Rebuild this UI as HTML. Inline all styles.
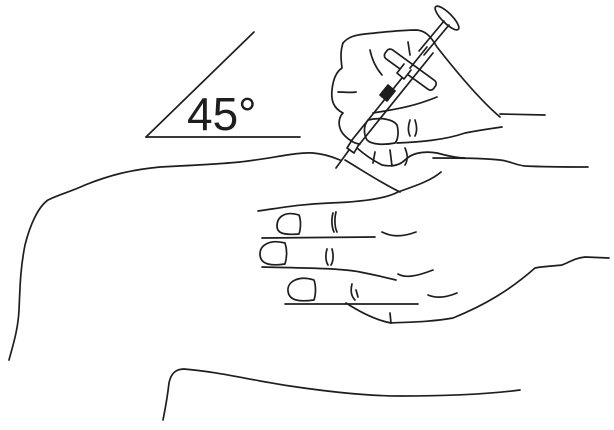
<!DOCTYPE html>
<html><head><meta charset="utf-8"><style>
html,body{margin:0;padding:0;background:#fff;width:614px;height:430px;overflow:hidden}
svg{display:block}
path,line,ellipse,rect{fill:none;stroke:#1e1e1e;stroke-width:1.7;stroke-linecap:round;stroke-linejoin:round}
</style></head><body>
<svg width="614" height="430" viewBox="0 0 614 430">
<g>
<line x1="146" y1="137" x2="254" y2="32"/>
<line x1="146" y1="137" x2="300" y2="137"/>
<text x="187" y="130" font-family="Liberation Sans, sans-serif" font-size="46" fill="#1e1e1e">45°</text>
</g>
<g>
<path d="M9,360 C13,345 18,330 19,310 C20,290 20,270 25,245 C30,225 38,207 48,200 C60,194 70,192 85,185 C110,175 130,170 160,167 C200,165 220,164 240,162 C275,158 295,152 313,153 C325,154 333,157 340,160"/>
<path d="M433,158 C460,158 480,158 500,160 C510,161 515,165 525,166 C545,167 565,167 588,167"/>
<path d="M163,420 C166,405 168,392 169,383 C171,373 176,369 184,369 C220,372 250,380 290,386 C330,392 370,396 400,396 C450,396 490,394 520,390"/>
</g>
<g>
<path d="M345,160 C365,172 383,184 400,192"/>
<path d="M258,211 C280,208 300,204 330,203 C360,202 385,199 398,192 C418,185 432,180 441,172"/>
<path d="M262,238 L375,237"/>
<path d="M262,267 C300,268 340,268 360,272 C375,275 388,278 396,280"/>
<path d="M285,304 L418,304"/>
<path d="M299,215 C286,211 277,216 277,226 C277,234 285,235 299,234 C301,228 301,220 299,215 Z"/>
<path d="M285,243 C270,239 260,245 260,254 C260,265 272,266 285,264 C287,257 287,249 285,243 Z"/>
<path d="M314,280 C298,275 287,282 288,291 C289,301 300,302 314,300 C316,294 316,286 314,280 Z"/>
<path d="M346,303 C360,312 375,320 391,323 C410,322 430,322 453,318 C485,305 510,290 535,268 C545,266 555,266 562,265 C570,262 575,258 585,257 L609,258"/>
<path d="M333,213 C331,220 332,228 334,232 M336,212 C334,220 335,228 337,232"/>
<path d="M382,232 C390,236 400,238 416,232"/>
<path d="M327,249 C325,256 326,262 328,265 M332,249 C334,256 333,262 331,265"/>
<path d="M398,274 C405,278 415,277 433,270"/>
<path d="M352,284 C350,292 352,297 355,300 M356,290 L358,297"/>
<path d="M428,295 C435,298 445,298 457,293"/>
<path d="M390,313 L391,323"/>
</g>
<g>
<path d="M343,43 C348,37 355,35 365,34 C385,32 400,30 417,30 C425,31 430,35 437,47 C455,70 480,100 500,117"/>
<path d="M500,114 L545,115"/>
<path d="M343,43 C340,52 341,60 342,68 C336,72 333,80 332,90 C331,100 333,108 343,113 C338,118 337,128 345,136 C350,141 356,144 360,144"/>
<path d="M368,120 C380,117 393,119 397,125 C399,132 398,140 395,143 C385,145 372,145 367,140 C363,133 364,125 368,120 Z"/>
<path d="M373,113 C390,110 410,108 437,97 M397,143 C420,142 445,140 465,133 C480,130 495,128 502,127"/>
<path d="M410,120 C408,126 408,132 410,136 M415,120 C417,126 417,132 415,136"/>
<path d="M357,148 C365,155 372,160 382,165 C392,167 400,165 405,160 C410,155 420,150 437,153 C445,155 455,158 465,158"/>
<path d="M375,152 L373,163 M390,150 L392,166 M405,148 C408,155 408,160 405,165"/>
<path d="M370,50 C372,60 376,68 382,75 M338,92 C345,92 352,93 356,92 M408,42 L410,55"/>
</g>
<g>
<ellipse cx="447" cy="18" rx="16" ry="5" transform="rotate(45 447 18)"/>
<path d="M444,21 L419,51 M449,25 L424,55"/>
<rect x="380" y="64" width="60" height="11" rx="4" transform="rotate(36 410 70)" style="fill:#fff"/>
<path d="M427,47 L352,140 M433,53 L358,146" stroke-width="2"/>
<path d="M404,64 L397,73 L404,79 L411,70" style="fill:#fff"/>
<path d="M388,85 L380,95 L387,101 L395,91 Z" style="fill:#1e1e1e"/>
<path d="M352,140 L347,148 L354,153 L358,146"/>
<path d="M349,150 L336,168" stroke-width="1"/>
</g>
</svg>
</body></html>
